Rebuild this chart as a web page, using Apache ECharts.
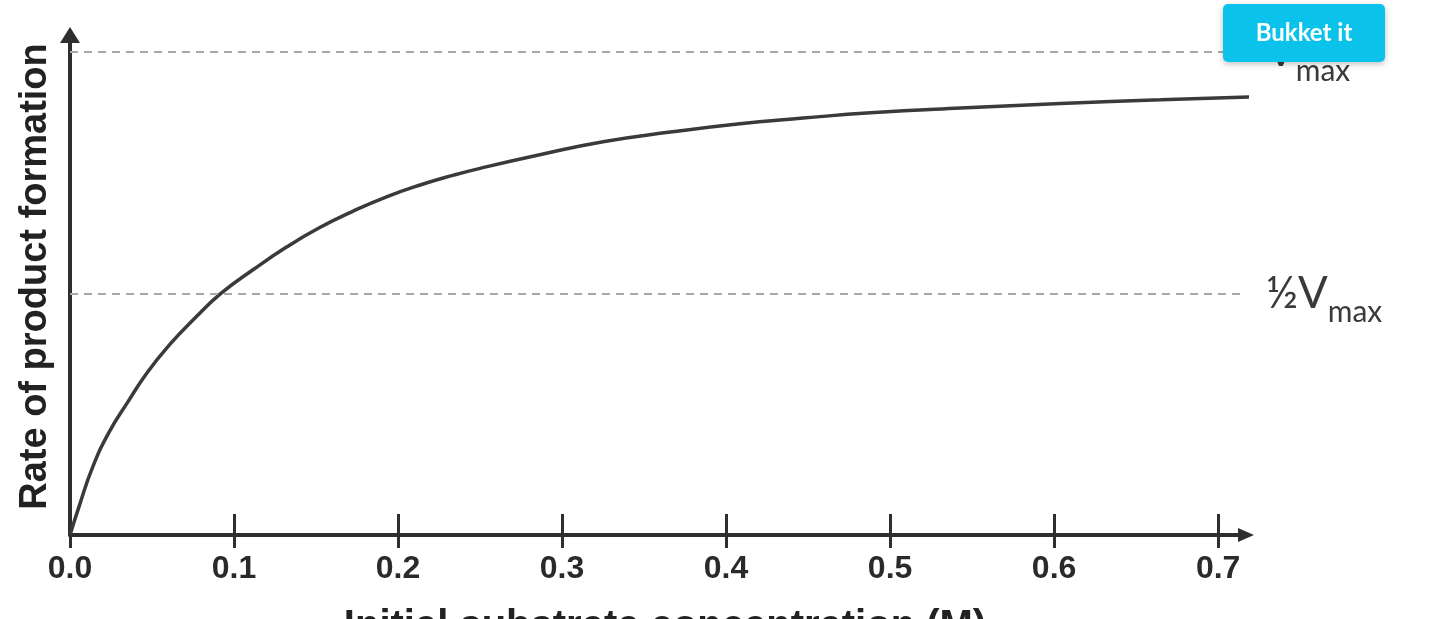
<!DOCTYPE html>
<html>
<head>
<meta charset="utf-8">
<title>Rate of product formation</title>
<script src="https://cdn.jsdelivr.net/npm/echarts@6/dist/echarts.min.js"></script>
<style>
  html, body { margin: 0; padding: 0; background: #fff; }
  #chart { width: 1440px; height: 619px; }
</style>
</head>
<body>
<div id="chart"></div>
<script>
// substrate concentration (M) and rate (fraction of Vmax)
const conc = [0, 0.006, 0.014, 0.024, 0.035, 0.047, 0.061, 0.075, 0.092, 0.112, 0.132, 0.152, 0.173, 0.193, 0.213, 0.234, 0.25, 0.285, 0.325, 0.366, 0.407, 0.447, 0.488, 0.543, 0.604, 0.665, 0.72]
const rate = [0, 0.064, 0.142, 0.214, 0.274, 0.336, 0.395, 0.445, 0.5, 0.55, 0.596, 0.636, 0.671, 0.7, 0.724, 0.745, 0.759, 0.786, 0.814, 0.834, 0.851, 0.863, 0.874, 0.884, 0.893, 0.901, 0.907]
const xTicks = [0, 0.1, 0.2, 0.3, 0.4, 0.5, 0.6, 0.7]
const vmax = 1
const refLines = [
  { value: vmax, text: '{v|V}{s|max}' },
  { value: vmax / 2, text: '{v|½V}{s|max}' }
]

const axisColor = '#2e2e2e'
const chart = echarts.init(document.getElementById('chart'))

chart.setOption({
  animation: false,
  backgroundColor: '#fff',
  grid: { left: 70, right: 194, top: 35, bottom: 84, outerBoundsMode: 'none' },
  xAxis: [
    {
      type: 'value',
      min: 0,
      max: 0.717,
      position: 'bottom',
      name: 'Initial substrate concentration (M)',
      nameLocation: 'middle',
      nameGap: 72,
      nameTextStyle: { fontFamily: 'Liberation Sans', fontWeight: 'bold', fontSize: 40, color: '#222', padding: [0, 0, 0, 14] },
      axisLine: {
        show: true,
        symbol: ['none', 'triangle'],
        symbolSize: [14, 16],
        lineStyle: { color: axisColor, width: 4 }
      },
      axisTick: { show: true, inside: true, length: 21, customValues: xTicks, lineStyle: { color: axisColor, width: 3 } },
      axisLabel: {
        customValues: xTicks,
        margin: 18,
        formatter: (v) => v.toFixed(1),
        fontFamily: 'Liberation Sans',
        fontWeight: 'bold',
        fontSize: 32,
        color: '#2a2a2a'
      },
      splitLine: { show: false }
    },
    {
      // lower half of the tick marks, they cross the axis line
      type: 'value',
      min: 0,
      max: 0.717,
      position: 'bottom',
      axisLine: { show: false },
      axisTick: { show: true, length: 13, customValues: xTicks, lineStyle: { color: axisColor, width: 3 } },
      axisLabel: { show: false },
      splitLine: { show: false }
    }
  ],
  yAxis: {
    type: 'value',
    min: 0,
    max: 1.035,
    name: 'Rate of product formation',
    nameLocation: 'middle',
    nameGap: 15,
    nameTextStyle: { fontFamily: 'Liberation Sans', fontWeight: 'bold', fontSize: 38, color: '#222', padding: [0, 0, 0, 17] },
    axisLine: {
      show: true,
      symbol: ['none', 'triangle'],
      symbolSize: [20, 16],
      lineStyle: { color: axisColor, width: 4 }
    },
    axisTick: { show: false },
    axisLabel: { show: false },
    splitLine: { show: false }
  },
  series: [
    {
      type: 'line',
      data: conc.map((c, i) => [c, rate[i]]),
      showSymbol: false,
      smooth: true,
      clip: false,
      lineStyle: { color: '#3a3a3a', width: 3.5 },
      markLine: {
        silent: true,
        symbol: ['none', 'none'],
        lineStyle: { color: '#a8a8a8', type: [8, 6], width: 2 },
        label: {
          show: true,
          position: 'end',
          distance: 20,
          color: '#3a3a3a',
          fontFamily: 'Lato',
          rich: {
            v: { fontFamily: 'Lato', fontSize: 44, color: '#3a3a3a' },
            s: { fontFamily: 'Lato', fontSize: 30, color: '#3a3a3a', padding: [0, 0, -38, 0] }
          }
        },
        data: refLines.map((r) => ({ yAxis: r.value, label: { formatter: r.text } }))
      }
    }
  ],
  graphic: [
    {
      type: 'rect',
      zlevel: 2,
      z: 100,
      shape: { x: 1223, y: 4, width: 162, height: 58, r: 5 },
      style: { fill: '#0bc3ea', shadowBlur: 6, shadowColor: 'rgba(0,0,0,0.25)', shadowOffsetY: 2 }
    },
    {
      type: 'text',
      zlevel: 2,
      z: 101,
      style: {
        text: 'Bukket it',
        x: 1304,
        y: 33,
        align: 'center',
        verticalAlign: 'middle',
        fill: '#fff',
        font: 'bold 24px Lato'
      }
    }
  ]
})
</script>
</body>
</html>
